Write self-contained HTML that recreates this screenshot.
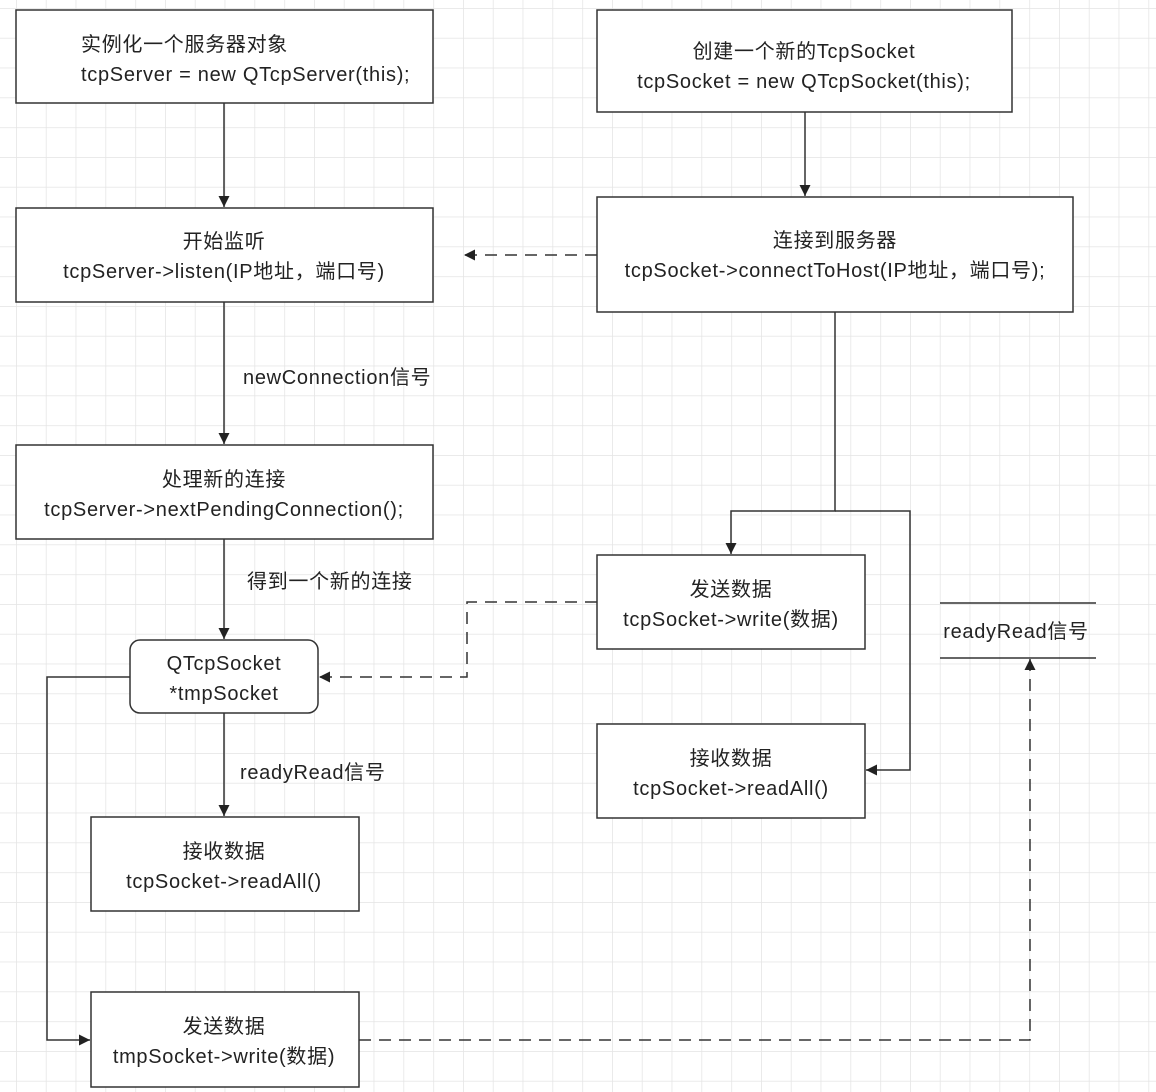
<!DOCTYPE html>
<html><head><meta charset="utf-8"><style>
html,body{margin:0;padding:0;background:#fff}
svg{display:block}
text{font-family:"Liberation Sans","Noto Sans CJK SC",sans-serif;font-size:20px;letter-spacing:0.7px;fill:#222}
</style></head><body>
<svg width="1156" height="1092" viewBox="0 0 1156 1092" xmlns="http://www.w3.org/2000/svg">
<defs>
<pattern id="g" x="16" y="8" width="29.8" height="29.8" patternUnits="userSpaceOnUse">
<path d="M0 0H29.8M0 0V29.8" stroke="#e4e4e4" stroke-width="1.5" fill="none"/>
</pattern>
<marker id="a" markerWidth="12" markerHeight="12" refX="11" refY="5.5" orient="auto" markerUnits="userSpaceOnUse">
<path d="M0 0L11 5.5L0 11Z" fill="#222"/>
</marker>
</defs>
<rect width="1156" height="1092" fill="url(#g)"/>
<g fill="#fff" stroke="#333" stroke-width="1.5">
<rect x="16" y="10" width="417" height="93"/>
<rect x="597" y="10" width="415" height="102"/>
<rect x="16" y="208" width="417" height="94"/>
<rect x="597" y="197" width="476" height="115"/>
<rect x="16" y="445" width="417" height="94"/>
<rect x="130" y="640" width="188" height="73" rx="10"/>
<rect x="91" y="817" width="268" height="94"/>
<rect x="91" y="992" width="268" height="95"/>
<rect x="597" y="555" width="268" height="94"/>
<rect x="597" y="724" width="268" height="94"/>
</g>
<g stroke="#333" stroke-width="1.5" fill="none">
<line x1="940" y1="603" x2="1096" y2="603"/>
<line x1="940" y1="658" x2="1096" y2="658"/>
<line x1="224" y1="103" x2="224" y2="207" marker-end="url(#a)"/>
<line x1="805" y1="112" x2="805" y2="196" marker-end="url(#a)"/>
<line x1="224" y1="302" x2="224" y2="444" marker-end="url(#a)"/>
<line x1="224" y1="539" x2="224" y2="639" marker-end="url(#a)"/>
<line x1="224" y1="713" x2="224" y2="816" marker-end="url(#a)"/>
<polyline points="130,677 47,677 47,1040 90,1040" marker-end="url(#a)"/>
<polyline points="835,312 835,511 731,511 731,554" marker-end="url(#a)"/>
<polyline points="835,511 910,511 910,770 866,770" marker-end="url(#a)"/>
<g stroke-dasharray="12,8">
<line x1="597" y1="255" x2="464" y2="255" marker-end="url(#a)"/>
<polyline points="597,602 467,602 467,677 319,677" marker-end="url(#a)"/>
<polyline points="359,1040 1030,1040 1030,659" marker-end="url(#a)"/>
</g>
</g>
<text x="81" y="51">实例化一个服务器对象</text>
<text x="81" y="81">tcpServer = new QTcpServer(this);</text>
<g text-anchor="middle">
<text x="804" y="58">创建一个新的TcpSocket</text>
<text x="804" y="88">tcpSocket = new QTcpSocket(this);</text>
<text x="224" y="248">开始监听</text>
<text x="224" y="278">tcpServer-&gt;listen(IP地址，端口号)</text>
<text x="835" y="247">连接到服务器</text>
<text x="835" y="277">tcpSocket-&gt;connectToHost(IP地址，端口号);</text>
<text x="224" y="486">处理新的连接</text>
<text x="224" y="516">tcpServer-&gt;nextPendingConnection();</text>
<text x="224" y="670">QTcpSocket</text>
<text x="224" y="700">*tmpSocket</text>
<text x="224" y="858">接收数据</text>
<text x="224" y="888">tcpSocket-&gt;readAll()</text>
<text x="224" y="1033">发送数据</text>
<text x="224" y="1063">tmpSocket-&gt;write(数据)</text>
<text x="731" y="596">发送数据</text>
<text x="731" y="626">tcpSocket-&gt;write(数据)</text>
<text x="731" y="765">接收数据</text>
<text x="731" y="795">tcpSocket-&gt;readAll()</text>
<text x="1016" y="638">readyRead信号</text>
</g>
<text x="243" y="384">newConnection信号</text>
<text x="247" y="588">得到一个新的连接</text>
<text x="240" y="779">readyRead信号</text>
</svg>
</body></html>
